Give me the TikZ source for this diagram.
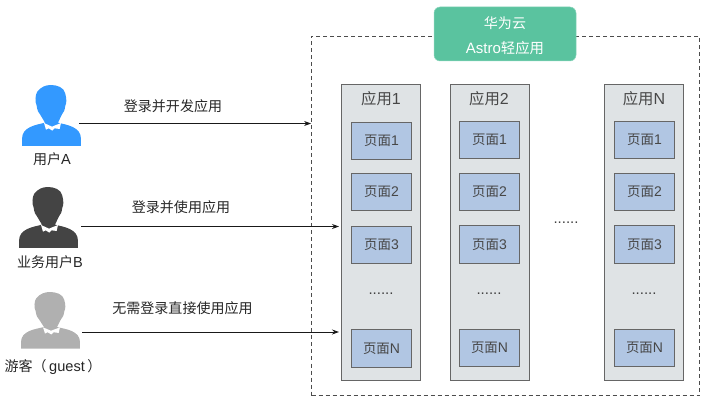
\documentclass[tikz,border=0pt]{standalone}
\usepackage{fontspec}
\setmainfont{Liberation Sans}
\newfontfamily\cjk{Noto Sans CJK SC}[Scale=0.96]
\usetikzlibrary{arrows.meta}
\definecolor{userblue}{HTML}{3399FF}
\definecolor{userdark}{HTML}{444444}
\definecolor{usergrey}{HTML}{B0B0B0}
\definecolor{cloudgreen}{HTML}{5AC39F}
\definecolor{colfill}{HTML}{DFE3E5}
\definecolor{pagefill}{HTML}{B1C6E3}
\definecolor{edgegrey}{HTML}{666666}
\newcommand{\zh}[1]{{\cjk #1}}
\tikzset{
  x=1pt,y=-1pt,
  appcol/.style={draw=edgegrey,fill=colfill,line width=1pt,minimum width=79pt,minimum height=296pt,inner sep=0pt},
  pagebox/.style={draw=edgegrey,fill=pagefill,line width=1pt,minimum width=60pt,minimum height=37pt,inner sep=0pt,text=black!72,font=\fontsize{14}{15}\selectfont},
  coltitle/.style={inner sep=0pt,text=black!72,font=\fontsize{16}{17}\selectfont},
  lbl/.style={inner sep=0pt,text=black!85,font=\fontsize{14.6}{15}\selectfont},
  dotstext/.style={inner sep=0pt,text=black!75,font=\fontsize{15}{15}\selectfont},
  conn/.style={draw=black!90,line width=0.9pt,-{Stealth[length=7pt,width=5pt]}},
  person/.pic={
    \fill[#1] (69,113) -- (54,88) .. controls (50,84) and (46,78) .. (44,62)
      .. controls (38,50) and (40,28) .. (46,20)
      .. controls (56,6) and (72,0) .. (86,0)
      .. controls (104,0) and (126,6) .. (130,26)
      .. controls (134,42) and (134,54) .. (130,62)
      .. controls (128,75) and (126,82) .. (120,88) -- (108,113)
      .. controls (135,120) and (177,125) .. (177,162) -- (177,183) -- (0,183) -- (0,162)
      .. controls (0,125) and (42,120) .. (69,113) -- cycle;
    \fill[white] (66,114) -- (90,125) -- (117,114) -- (113,132) -- (98,130) -- (91,137) -- (80,130) -- (72,134) -- cycle;
  }
}
\begin{document}
\begin{tikzpicture}
\useasboundingbox (0,0) rectangle (705,404);
% platform outline
\node[draw=black!70,line width=0.8pt,dash pattern=on 4pt off 3pt,minimum width=388pt,minimum height=359.5pt,inner sep=0pt] (cloud) at (505.5,215.75) {};
\node[fill=cloudgreen,draw=cloudgreen!70!white,line width=0.5pt,rounded corners=6pt,minimum width=142pt,minimum height=54pt,inner sep=0pt] (brand) at (505,34) {};
\node[inner sep=0pt,text=white,font=\fontsize{14.6}{15}\selectfont] (brand1) at (505,23) {\zh{华为云}};
\node[inner sep=0pt,text=white,font=\fontsize{15}{15}\selectfont] (brand2) at (505,48) {Astro\zh{轻应用}};
% columns
\node[appcol] (a) at (381,232.5) {};
\node[appcol] (b) at (490,232.5) {};
\node[appcol] (c) at (644,232.5) {};
\node[coltitle] (at) at (381,99) {\zh{应用}1};
\node[coltitle] (bt) at (489,99) {\zh{应用}2};
\node[coltitle] (ct) at (644,99) {\zh{应用}N};
% pages, column 1
\node[pagebox] (a1) at (381.5,141) {\zh{页面}1};
\node[pagebox] (a2) at (381.5,192) {\zh{页面}2};
\node[pagebox] (a3) at (381.5,245) {\zh{页面}3};
\node[dotstext] (ad) at (381,294) {......};
\node[pagebox,minimum height=38pt] (an) at (381.5,348.5) {\zh{页面}N};
% pages, column 2
\node[pagebox] (b1) at (489.5,140) {\zh{页面}1};
\node[pagebox] (b2) at (489.5,192) {\zh{页面}2};
\node[pagebox,minimum height=38pt] (b3) at (489.5,244.5) {\zh{页面}3};
\node[dotstext] (bd) at (489,294) {......};
\node[pagebox] (bn) at (489.5,348) {\zh{页面}N};
% pages, column 3
\node[pagebox] (c1) at (644.5,140) {\zh{页面}1};
\node[pagebox] (c2) at (644.5,192) {\zh{页面}2};
\node[pagebox,minimum height=38pt] (c3) at (644.5,244.5) {\zh{页面}3};
\node[dotstext] (cd) at (644,294) {......};
\node[pagebox] (cn) at (644.5,348) {\zh{页面}N};
\node[dotstext] (gap) at (566,223) {......};
% users
\pic at (22,85) [xscale=.3333,yscale=.3333] {person=userblue};
\pic at (19,187) [xscale=.3333,yscale=.3333] {person=userdark};
\pic at (21,292) [xscale=.3333,yscale=.31] {person=usergrey};
\node[lbl] (ua) at (52,159.5) {\zh{用户}A};
\node[lbl] (ub) at (50,262) {\zh{业务用户}B};
\node[lbl] (uc) at (53,367) {\zh{游客（}\,guest\,\zh{）}};
\coordinate (pa) at (79,123.5);
\coordinate (pb) at (81,226.5);
\coordinate (pc) at (82,332);
% connectors
\draw[conn] (pa) -- (pa -| cloud.west);
\draw[conn,shorten >=2pt] (pb) -- (pb -| a.west);
\draw[conn,shorten >=2pt] (pc) -- (pc -| a.west);
\node[lbl] (la) at (173,106) {\zh{登录并开发应用}};
\node[lbl] (lb) at (181,207) {\zh{登录并使用应用}};
\node[lbl] (lc) at (182.5,308) {\zh{无需登录直接使用应用}};
\end{tikzpicture}
\end{document}
